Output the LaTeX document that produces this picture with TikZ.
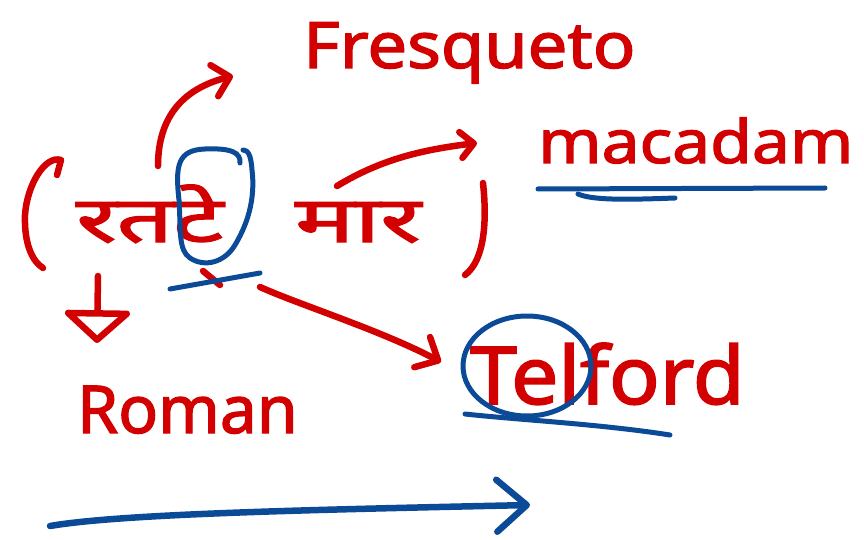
\documentclass[tikz,border=0pt]{standalone}
\usepackage{fontspec}
\usepackage{graphicx}
\setmainfont{Noto Sans}[FakeBold=2]
\newfontfamily\inkfont{Noto Sans}[FakeBold=2]
\newfontfamily\deva[Script=Devanagari, FakeBold=2]{Noto Sans}
\usetikzlibrary{arrows.meta}
\definecolor{inkred}{HTML}{D20000}
\definecolor{inkblue}{HTML}{0B4A96}
\begin{document}
\begin{tikzpicture}[x=1pt,y=-1pt,
  redpen/.style={draw=inkred, line width=6.5pt, line cap=round, line join=round},
  bluepen/.style={draw=inkblue, line width=5pt, line cap=round, line join=round},
  word/.style={text=inkred, inner sep=0pt, anchor=base west},
]
\useasboundingbox (0,0) rectangle (864,540);

% words
\node[word, font=\inkfont\fontsize{64}{66}\selectfont] (tresaguet) at (303,68) {\scalebox{1.1}[1]{Fresqueto}};
\node[word, font=\inkfont\fontsize{60}{62}\selectfont] (macadam) at (538,163) {\scalebox{1.13}[1]{macadam}};
\node[word, font=\inkfont\fontsize{66}{68}\selectfont] (roman) at (77,433) {Roman};
\node[word, font=\inkfont\fontsize{80}{82}\selectfont] (telford) at (470,404) {\scalebox{1.05}[1]{Telford}};
\node[word, font=\deva\fontsize{64}{66}\selectfont] (rtt) at (76,242) {\scalebox{1.55}[1]{रतटे}};
\node[word, font=\deva\fontsize{64}{66}\selectfont] (maar) at (295,242) {\scalebox{1.55}[1]{मार}};

% brackets round the mnemonic
\draw[redpen] (57,175) -- (61,160) .. controls (45,155) and (27,185) .. (25,215)
  .. controls (24,245) and (33,262) .. (43,268);
\draw[redpen] (483,183) .. controls (487,220) and (485,260) .. (465,275);

% connector end points
\coordinate (t0) at (158,166);
\coordinate (t1) at (233,76);
\coordinate (m0) at (337,186);
\coordinate (m1) at (477,143);
\coordinate (r0) at (98,276);
\coordinate (r1) at (97,343);
\coordinate (f0) at (260,287);
\coordinate (f1) at (441,362);

% arrows from the syllables to the names
\draw[redpen, -{Straight Barb[round, length=16pt, width=32pt]}]
  (t0) .. controls (158,115) and (185,88) .. (t1);
\draw[redpen, -{Straight Barb[round, length=13pt, width=26pt]}]
  (m0) .. controls (380,160) and (420,150) .. (m1);
\draw[redpen, -{Triangle[open, round, length=34pt, width=74pt]}] (r0) -- (r1);
\draw[redpen, -{Straight Barb[round, length=18pt, width=34pt]}]
  (f0) .. controls (300,305) and (380,330) .. (f1);
\draw[redpen] (203,271) -- (220,285);

% blue marks on the syllable te
\draw[bluepen] (240,163) .. controls (241,152) and (230,148) .. (205,149)
  .. controls (178,150) and (175,165) .. (179,200)
  .. controls (181,230) and (178,250) .. (190,258)
  .. controls (205,268) and (225,262) .. (235,245)
  .. controls (250,220) and (255,195) .. (252,170)
  .. controls (251,155) and (248,150) .. (243,150);
\draw[bluepen] (170,289) -- (260,273);

% blue underline of macadam
\draw[bluepen] (538,189) -- (825,188);
\draw[bluepen] (578,194) .. controls (592,200) and (622,200) .. (675,198);

% blue ring and underline of Telford
\draw[bluepen] (527,366) ellipse [x radius=64, y radius=50];
\draw[bluepen] (465,414) .. controls (520,420) and (600,424) .. (670,435);

% time line
\coordinate (l0) at (50,526);
\coordinate (l1) at (530,505);
\draw[bluepen, line width=6.5pt, -{Straight Barb[round, length=30pt, width=52pt]}]
  (l0) .. controls (120,514) and (300,510) .. (l1);
\end{tikzpicture}
\end{document}
